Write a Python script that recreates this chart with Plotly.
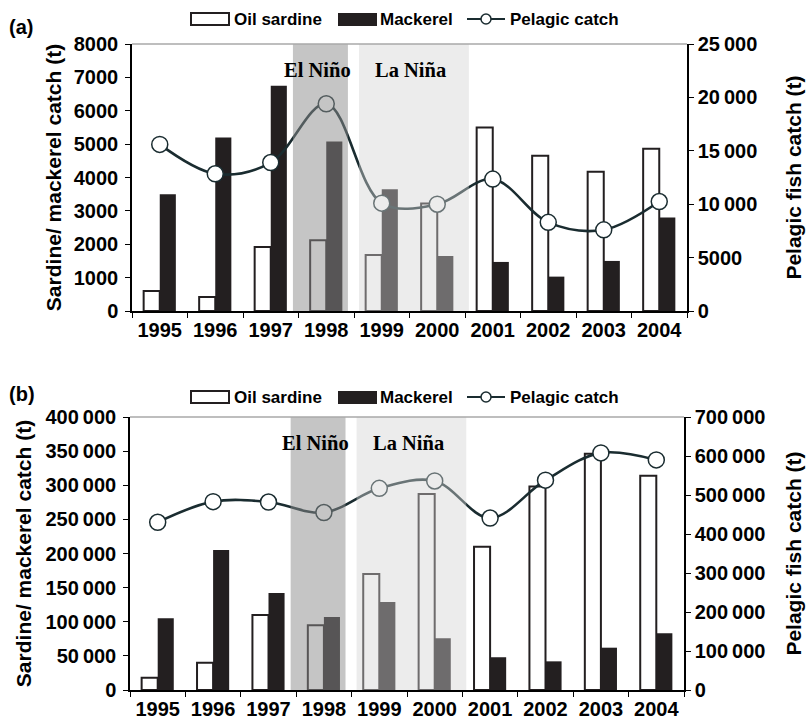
import plotly.graph_objects as go

# Catch data, 1995-2004
years = ["1995", "1996", "1997", "1998", "1999", "2000", "2001", "2002", "2003", "2004"]

# Panel (a)
a_sardine = [600, 420, 1920, 2120, 1680, 3220, 5500, 4650, 4170, 4860]
a_mackerel = [3500, 5200, 6750, 5080, 3650, 1650, 1470, 1030, 1500, 2800]
a_pelagic = [15600, 12850, 13900, 19400, 10100, 10000, 12350, 8300, 7600, 10250]

# Panel (b)
b_sardine = [18000, 40000, 110000, 95000, 170000, 287000, 210000, 298000, 346000, 314000]
b_mackerel = [105000, 205000, 142000, 107000, 129000, 76000, 48000, 42000, 62000, 83000]
b_pelagic = [430000, 483000, 482000, 455000, 517000, 536000, 441000, 538000, 608000, 590000]

# Axis ticks
a_left_ticks = [0, 1000, 2000, 3000, 4000, 5000, 6000, 7000, 8000]
a_left_text = ["0", "1000", "2000", "3000", "4000", "5000", "6000", "7000", "8000"]
a_right_ticks = [0, 5000, 10000, 15000, 20000, 25000]
a_right_text = ["0", "5000", "10\u2009000", "15\u2009000", "20\u2009000", "25\u2009000"]
b_left_ticks = [0, 50000, 100000, 150000, 200000, 250000, 300000, 350000, 400000]
b_left_text = ["0", "50\u2009000", "100\u2009000", "150\u2009000", "200\u2009000",
               "250\u2009000", "300\u2009000", "350\u2009000", "400\u2009000"]
b_right_ticks = [0, 100000, 200000, 300000, 400000, 500000, 600000, 700000]
b_right_text = ["0", "100\u2009000", "200\u2009000", "300\u2009000", "400\u2009000",
                "500\u2009000", "600\u2009000", "700\u2009000"]

legend_labels = ["Oil sardine", "Mackerel", "Pelagic catch"]

SANS = "Liberation Sans, Arial, sans-serif"
SERIF = "Liberation Serif, Times New Roman, serif"
INK = "#231f20"
LINE = "#1a2c30"

W, H = 806, 723


def px_x(p):
    return p / W


def px_y(p):
    return (H - p) / H


fig = go.Figure()


def add_panel(sardine, mackerel, pelagic, xa, ya, ya2):
    fig.add_trace(go.Bar(
        x=years, y=sardine, name=legend_labels[0], xaxis=xa, yaxis=ya,
        marker=dict(color="white", line=dict(color=INK, width=2)),
        showlegend=False,
    ))
    fig.add_trace(go.Bar(
        x=years, y=mackerel, name=legend_labels[1], xaxis=xa, yaxis=ya,
        marker=dict(color=INK, line=dict(color=INK, width=0)),
        showlegend=False,
    ))
    fig.add_trace(go.Scatter(
        x=years, y=pelagic, name=legend_labels[2], xaxis=xa, yaxis=ya2,
        mode="lines+markers", line=dict(color=LINE, width=2.6, shape="spline", smoothing=1.0),
        marker=dict(size=16, color="white", line=dict(color=LINE, width=1.5)),
        showlegend=False,
    ))


add_panel(a_sardine, a_mackerel, a_pelagic, "x", "y", "y2")
add_panel(b_sardine, b_mackerel, b_pelagic, "x2", "y3", "y4")

tick_font = dict(family=SANS, size=20, color="black", weight="bold")
title_font = dict(family=SANS, size=21, color="black", weight="bold")


def xaxis_cfg(domain, anchor):
    return dict(
        domain=domain, anchor=anchor, type="category", range=[-0.5, len(years) - 0.5],
        showline=True, linecolor="black", linewidth=1.5,
        ticks="outside", ticklen=5, tickcolor="black", tickwidth=1.2,
        tickson="boundaries", tickfont=tick_font, tickangle=0, showgrid=False,
        zeroline=False, automargin=False,
    )


def yaxis_cfg(domain, anchor, rng, tv, tt, title, standoff, side="left",
              overlaying=None, label_gap=0):
    d = dict(
        domain=domain, anchor=anchor, range=rng, side=side,
        tickmode="array", tickvals=tv, ticktext=tt,
        showline=True, linecolor="black", linewidth=1.5,
        ticks="outside", ticklen=5, tickcolor="black", tickwidth=1.2,
        tickfont=tick_font, showgrid=False, zeroline=False,
        ticklabelstandoff=label_gap,
        title=dict(text=title, font=title_font, standoff=standoff),
        automargin=False,
    )
    if overlaying:
        d["overlaying"] = overlaying
    return d


xa_dom = [px_x(132), px_x(687)]
ya_dom = [px_y(311), px_y(44)]
xb_dom = [px_x(130), px_x(684)]
yb_dom = [px_y(690), px_y(417)]

fig.update_layout(
    width=W, height=H,
    margin=dict(l=0, r=0, t=0, b=0),
    paper_bgcolor="white", plot_bgcolor="white",
    showlegend=False,
    barmode="group", bargap=0.42, bargroupgap=0.0,
    xaxis=xaxis_cfg(xa_dom, "y"),
    yaxis=yaxis_cfg(ya_dom, "x", [0, 8000], a_left_ticks, a_left_text,
                    "Sardine/ mackerel catch (t)", 6, label_gap=3),
    yaxis2=yaxis_cfg(ya_dom, "x", [0, 25000], a_right_ticks, a_right_text,
                     "Pelagic fish catch (t)", 30, side="right", overlaying="y"),
    xaxis2=xaxis_cfg(xb_dom, "y3"),
    yaxis3=yaxis_cfg(yb_dom, "x2", [0, 400000], b_left_ticks, b_left_text,
                     "Sardine/ mackerel catch (t)", 8, label_gap=3),
    yaxis4=yaxis_cfg(yb_dom, "x2", [0, 700000], b_right_ticks, b_right_text,
                     "Pelagic fish catch (t)", 22, side="right", overlaying="y3"),
)

# Climate-event shading drawn over the bars and line, plus the grey top frame line
shapes = []
for xr, yr in (("x", "y"), ("x2", "y3")):
    shapes.append(dict(type="rect", xref=xr, yref=f"{yr} domain", x0=2.4, x1=3.39, y0=0, y1=1,
                       fillcolor="rgba(140,140,140,0.5)", line=dict(width=0), layer="above"))
    shapes.append(dict(type="rect", xref=xr, yref=f"{yr} domain", x0=3.59, x1=5.57, y0=0, y1=1,
                       fillcolor="rgba(210,210,210,0.43)", line=dict(width=0), layer="above"))
    shapes.append(dict(type="line", xref=f"{xr} domain", yref=f"{yr} domain", x0=0, x1=1, y0=1, y1=1,
                       line=dict(color="#a8a8a8", width=1.5), layer="above"))

# Legend rows above each panel: swatches as shapes, labels as text
legend_font = dict(family=SANS, size=17, color="black", weight="bold")
annotations = []
for cy in (19, 397):
    shapes.append(dict(type="rect", xref="paper", yref="paper",
                       x0=px_x(191), x1=px_x(229), y0=px_y(cy + 6), y1=px_y(cy - 6),
                       fillcolor="white", line=dict(color=INK, width=2)))
    shapes.append(dict(type="rect", xref="paper", yref="paper",
                       x0=px_x(338), x1=px_x(377), y0=px_y(cy + 7), y1=px_y(cy - 6),
                       fillcolor=INK, line=dict(width=0)))
    shapes.append(dict(type="line", xref="paper", yref="paper",
                       x0=px_x(467), x1=px_x(505), y0=px_y(cy), y1=px_y(cy),
                       line=dict(color=LINE, width=2)))
    shapes.append(dict(type="circle", xref="paper", yref="paper",
                       x0=px_x(481), x1=px_x(491), y0=px_y(cy + 5), y1=px_y(cy - 5),
                       fillcolor="white", line=dict(color=LINE, width=1.5)))
    for label, lx in zip(legend_labels, (233, 379, 509)):
        annotations.append(dict(text=label, xref="paper", yref="paper", x=px_x(lx), y=px_y(cy),
                                showarrow=False, font=legend_font, xanchor="left",
                                yanchor="middle", borderpad=0))
fig.update_layout(shapes=shapes)

event_font = dict(family=SERIF, size=20.5, color="black", weight="bold")
for xr, yr in (("x", "y"), ("x2", "y3")):
    annotations.append(dict(text="El Niño", xref=xr, yref=f"{yr} domain", x=2.85, y=0.903,
                            showarrow=False, font=event_font, xanchor="center", yanchor="middle"))
    annotations.append(dict(text="La Niña", xref=xr, yref=f"{yr} domain", x=4.52, y=0.903,
                            showarrow=False, font=event_font, xanchor="center", yanchor="middle"))
panel_font = dict(family=SANS, size=20, color="black", weight="bold")
annotations.append(dict(text="(a)", xref="paper", yref="paper", x=px_x(7), y=px_y(27),
                        showarrow=False, font=panel_font, xanchor="left", yanchor="middle"))
annotations.append(dict(text="(b)", xref="paper", yref="paper", x=px_x(7), y=px_y(394),
                        showarrow=False, font=panel_font, xanchor="left", yanchor="middle"))
fig.update_layout(annotations=annotations)

fig.write_html("out.html")
